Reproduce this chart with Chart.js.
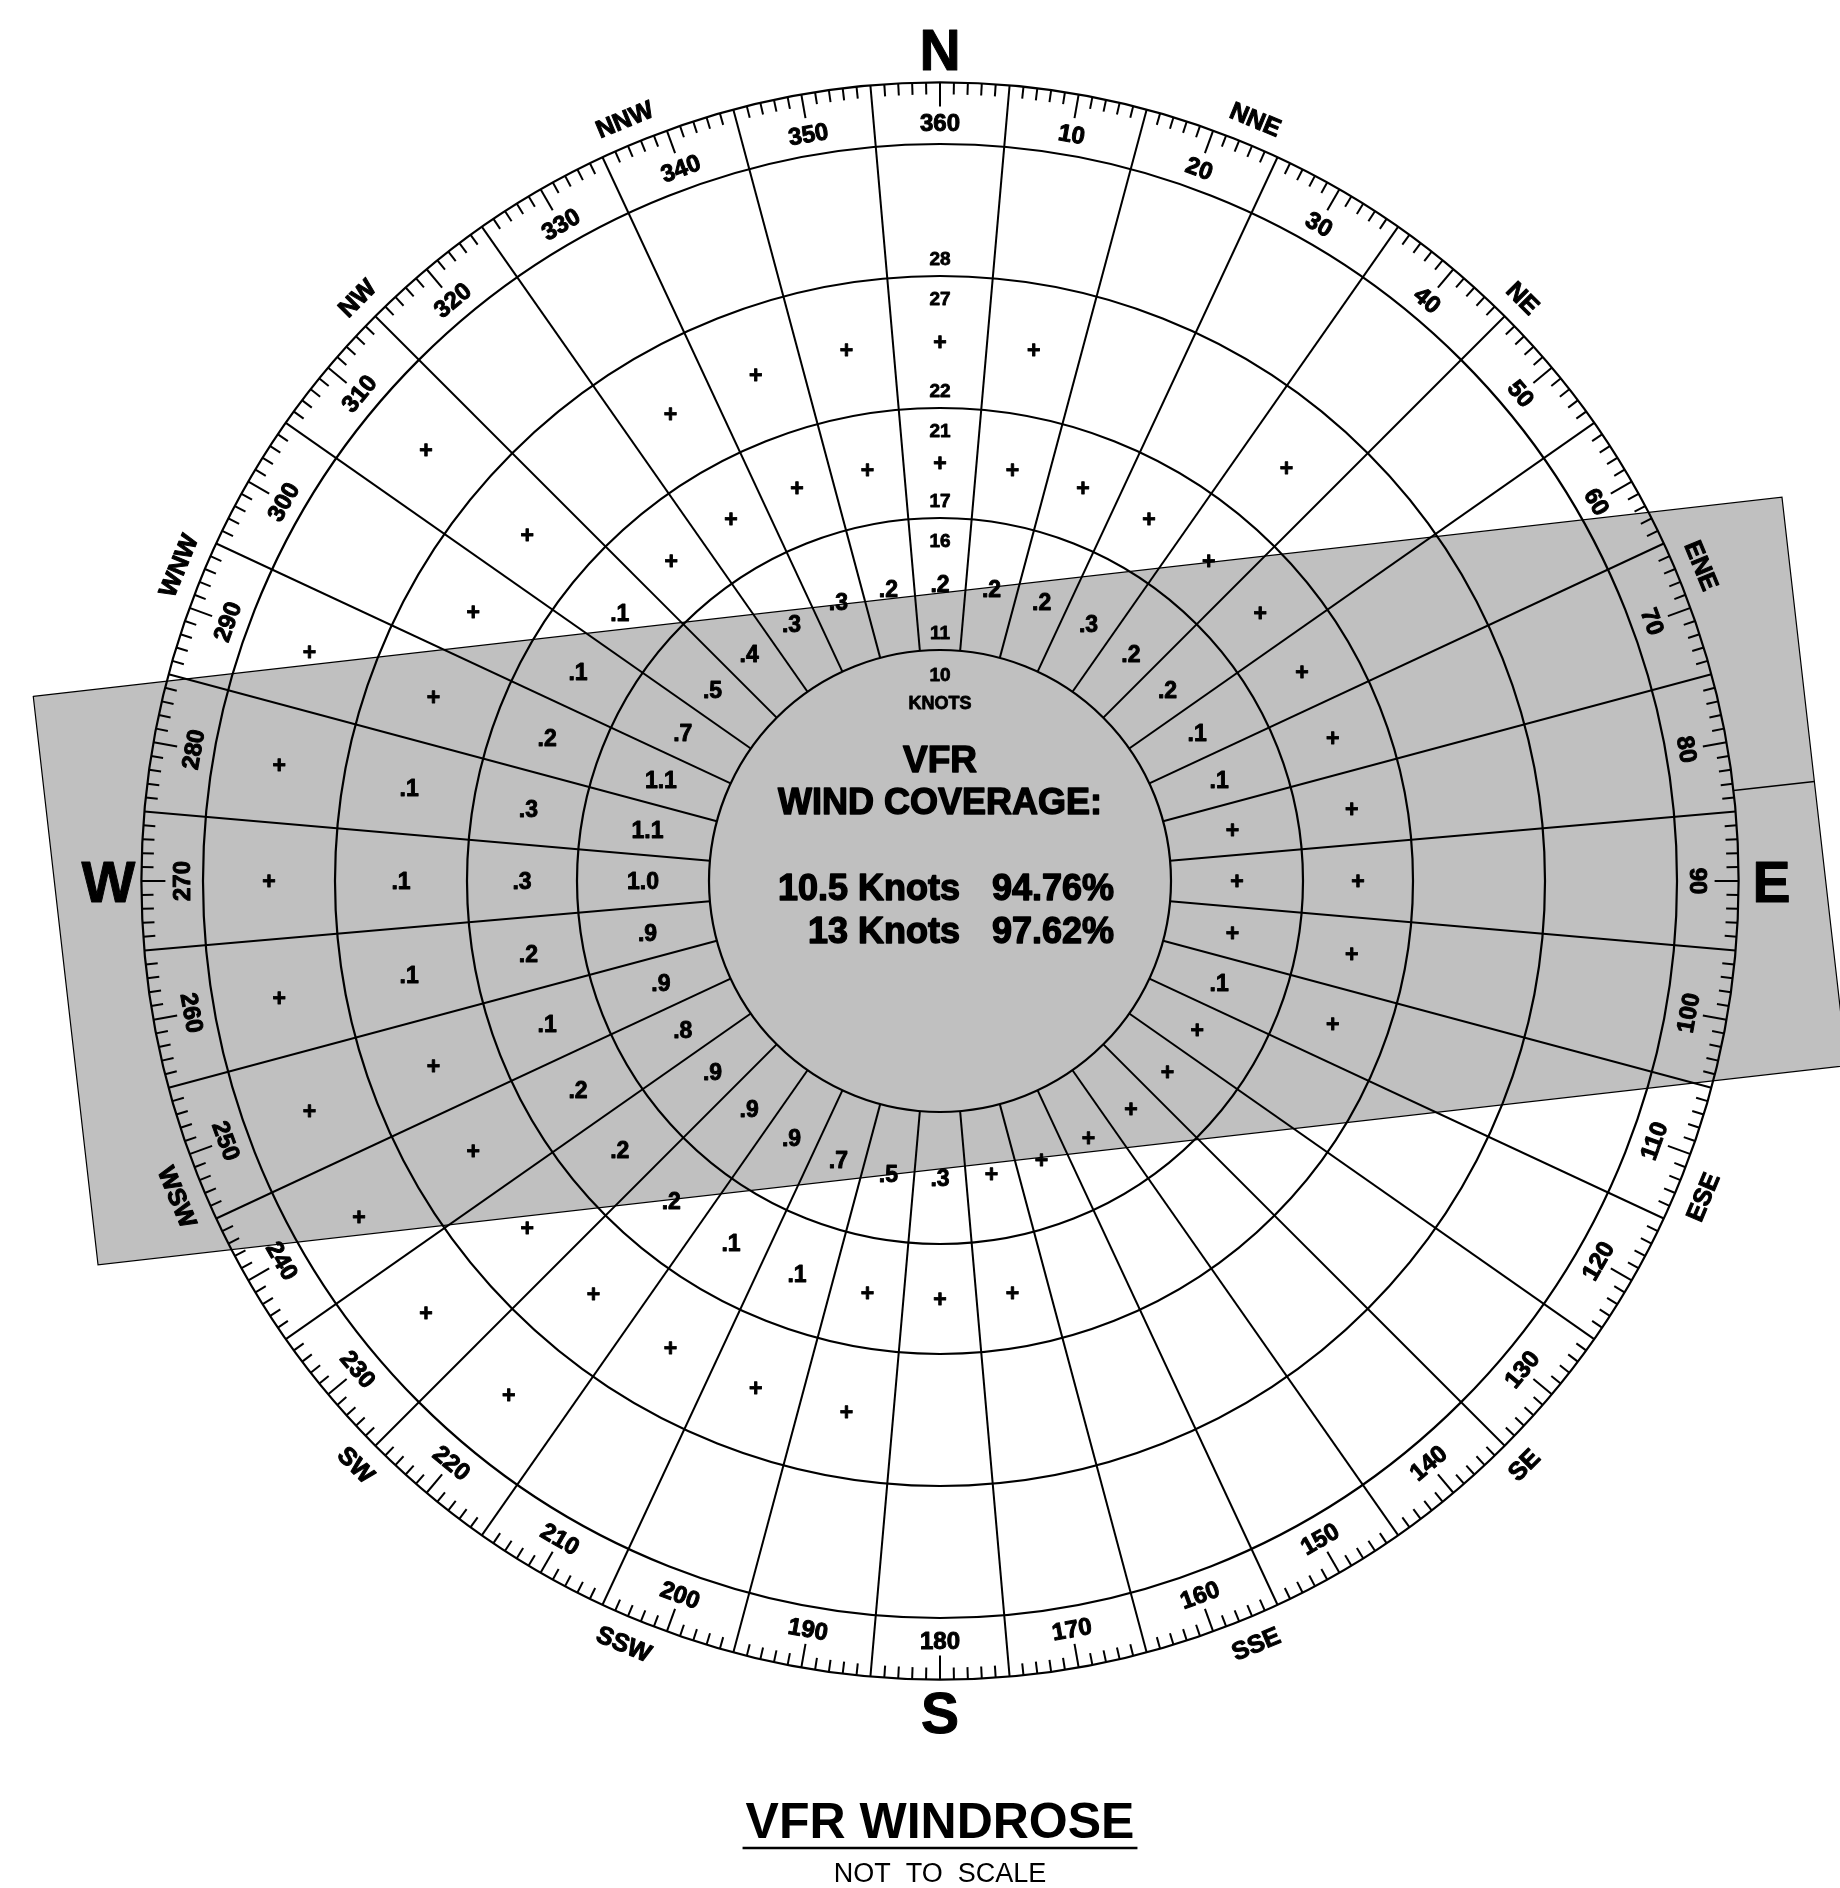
<!DOCTYPE html>
<html>
<head>
<meta charset="utf-8">
<title>VFR Windrose</title>
<script src="https://cdn.jsdelivr.net/npm/chart.js@4.4.1/dist/chart.umd.min.js"></script>
<style>
    html, body { margin: 0; padding: 0; background: #fff; }
    #wrap { width: 1840px; height: 1888px; }
</style>
</head>
<body>
<div id="wrap"><canvas id="roseChart" width="1840" height="1888"></canvas></div>
<script>
// Sector directions (degrees true), one sector every 10 degrees
const directions = [10, 20, 30, 40, 50, 60, 70, 80, 90, 100, 110, 120,
                    130, 140, 150, 160, 170, 180, 190, 200, 210, 220, 230, 240,
                    250, 260, 270, 280, 290, 300, 310, 320, 330, 340, 350, 360];

// Speed ring boundaries in knots
const speedRings = [10.5, 16.5, 21.5, 27.5, 33.5];
const ringLabels = [['11', '16'], ['17', '21'], ['22', '27'], ['28', '']];

// Percent of observations per sector ('+' = trace, null = none)
const T = '+';
const band11to16 = [0.2, 0.2, 0.3, 0.2, 0.2, 0.1, 0.1, T, T, T, 0.1, T,
                    T, T, T, T, T, 0.3, 0.5, 0.7, 0.9, 0.9, 0.9, 0.8,
                    0.9, 0.9, 1.0, 1.1, 1.1, 0.7, 0.5, 0.4, 0.3, 0.3, 0.2, 0.2];
const band17to21 = [T, T, T, T, T, T, T, T, T, T, T, null,
                    null, null, null, null, T, T, T, 0.1, 0.1, 0.2, 0.2, 0.2,
                    0.1, 0.2, 0.3, 0.3, 0.2, 0.1, 0.1, T, T, T, T, T];
const band22to27 = [T, null, null, T, null, null, null, null, null, null, null, null,
                    null, null, null, null, null, null, T, T, T, T, T, T,
                    T, 0.1, 0.1, 0.1, T, T, T, null, T, T, T, T];
const band28to33 = [null, null, null, null, null, null, null, null, null, null, null, null,
                    null, null, null, null, null, null, null, null, null, T, T, T,
                    T, T, T, T, T, null, T, null, null, null, null, null];
const speedBands = [band11to16, band17to21, band22to27, band28to33];

const compassPoints = ['N', 'NNE', 'NE', 'ENE', 'E', 'ESE', 'SE', 'SSE',
                       'S', 'SSW', 'SW', 'WSW', 'W', 'WNW', 'NW', 'NNW'];

// Runway and coverage
const runwayHeading = 83.5;
const crosswindLimit = 13;
const coverage = [['10.5 Knots', '94.76%'], ['13 Knots', '97.62%']];

const FONT = '"Liberation Sans", Arial, sans-serif';
const tickRing = 36.3;      // outer edge of the degree ring, knots
const bandHalfLength = 40;  // runway band extent, knots

function fmt(v) {
    if (v === T) return '+';
    return v >= 1 ? v.toFixed(1) : v.toFixed(1).replace(/^0/, '');
}

// cell points at the middle of each speed ring
const cellPoints = [];
speedBands.forEach((band, i) => {
    const mid = (speedRings[i] + speedRings[i + 1]) / 2;
    band.forEach((v, j) => {
        if (v === null) return;
        const a = directions[j] * Math.PI / 180;
        cellPoints.push({ x: mid * Math.sin(a), y: mid * Math.cos(a), v: fmt(v) });
    });
});

function upright(deg) {
    return (deg > 90 && deg < 270) ? deg - 180 : deg;
}

// text centred on (x, y); heavy = extra stroke to thicken the glyphs
function drawText(ctx, text, x, y, size, weight, rot, heavy) {
    ctx.save();
    ctx.translate(x, y);
    if (rot) ctx.rotate(rot * Math.PI / 180);
    ctx.font = weight + ' ' + size + 'px ' + FONT;
    ctx.textAlign = 'center';
    ctx.textBaseline = 'alphabetic';
    ctx.fillText(text, 0, size * 0.36);
    if (heavy) {
        ctx.lineWidth = heavy;
        ctx.lineJoin = 'round';
        ctx.strokeStyle = '#000';
        ctx.strokeText(text, 0, size * 0.36);
    }
    ctx.restore();
}

const windrosePlugin = {
    id: 'windrose',
    beforeDatasetsDraw(chart) {
        const ctx = chart.ctx;
        const xs = chart.scales.x, ys = chart.scales.y;
        const P = (r, deg) => {
            const a = deg * Math.PI / 180;
            return [xs.getPixelForValue(r * Math.sin(a)), ys.getPixelForValue(r * Math.cos(a))];
        };
        const R = r => xs.getPixelForValue(r) - xs.getPixelForValue(0);
        const cx = xs.getPixelForValue(0), cy = ys.getPixelForValue(0);

        // Crosswind band
        const h = runwayHeading * Math.PI / 180;
        const u = [Math.sin(h), Math.cos(h)], n = [-Math.cos(h), Math.sin(h)];
        const corner = (along, across) => [
            xs.getPixelForValue(along * u[0] + across * n[0]),
            ys.getPixelForValue(along * u[1] + across * n[1])
        ];
        const corners = [corner(-bandHalfLength, crosswindLimit), corner(bandHalfLength, crosswindLimit),
                         corner(bandHalfLength, -crosswindLimit), corner(-bandHalfLength, -crosswindLimit)];
        ctx.save();
        ctx.beginPath();
        corners.forEach((c, i) => i ? ctx.lineTo(c[0], c[1]) : ctx.moveTo(c[0], c[1]));
        ctx.closePath();
        ctx.fillStyle = '#c0c0c0';
        ctx.fill();
        ctx.lineWidth = 1.2;
        ctx.strokeStyle = '#000';
        ctx.stroke();

        // runway centerline beyond the rose (east end)
        const c1 = corner(tickRing, 0), c2 = corner(bandHalfLength, 0);
        ctx.beginPath();
        ctx.moveTo(c1[0], c1[1]);
        ctx.lineTo(c2[0], c2[1]);
        ctx.lineWidth = 1.5;
        ctx.stroke();

        // Rings
        ctx.lineWidth = 2.2;
        speedRings.concat([tickRing]).forEach(r => {
            ctx.beginPath();
            ctx.arc(cx, cy, R(r), 0, Math.PI * 2);
            ctx.stroke();
        });

        // Sector boundaries
        ctx.lineWidth = 2;
        directions.forEach(d => {
            const a = P(speedRings[0], d - 5), b = P(tickRing, d - 5);
            ctx.beginPath();
            ctx.moveTo(a[0], a[1]);
            ctx.lineTo(b[0], b[1]);
            ctx.stroke();
        });

        // Degree ticks
        const minor = 12 / R(1), major = 24 / R(1);
        for (let d = 0; d < 360; d++) {
            if (d % 10 === 5) continue;
            const len = d % 10 === 0 ? major : minor;
            const a = P(tickRing, d), b = P(tickRing - len, d);
            ctx.beginPath();
            ctx.moveTo(a[0], a[1]);
            ctx.lineTo(b[0], b[1]);
            ctx.stroke();
        }
        ctx.restore();
    },
    afterDatasetsDraw(chart) {
        const ctx = chart.ctx;
        const xs = chart.scales.x, ys = chart.scales.y;
        const P = (r, deg) => {
            const a = deg * Math.PI / 180;
            return [xs.getPixelForValue(r * Math.sin(a)), ys.getPixelForValue(r * Math.cos(a))];
        };
        const cx = xs.getPixelForValue(0), cy = ys.getPixelForValue(0);
        ctx.save();
        ctx.fillStyle = '#000';

        // Cell values
        const meta = chart.getDatasetMeta(0);
        meta.data.forEach((el, i) => {
            drawText(ctx, cellPoints[i].v, el.x, el.y, 23, 'bold', 0, 0.9);
        });

        // Speed labels in the north sector
        ringLabels.forEach((pair, i) => {
            let p = P(speedRings[i] + 0.8, 0);
            drawText(ctx, pair[0], p[0], p[1], 19, 'bold', 0, 0.8);
            if (pair[1]) {
                p = P(speedRings[i + 1] - 1.0, 0);
                drawText(ctx, pair[1], p[0], p[1], 19, 'bold', 0, 0.8);
            }
        });
        let p = P(9.4, 0);
        drawText(ctx, '10', p[0], p[1], 19, 'bold', 0, 0.8);
        p = P(8.1, 0);
        drawText(ctx, 'KNOTS', p[0], p[1], 18, 'bold', 0, 0.8);

        // Degree labels
        directions.forEach(d => {
            const q = P(34.5, d);
            drawText(ctx, String(d), q[0], q[1], 24, 'bold', upright(d % 360), 1);
        });

        // Compass points
        compassPoints.forEach((c, i) => {
            const d = i * 22.5;
            if (i % 4 === 0) {
                const q = P(37.8, d);
                drawText(ctx, c, q[0], q[1], 57, 'bold', 0, 1);
            } else {
                const q = P(37.5, d);
                drawText(ctx, c, q[0], q[1], 25, 'bold', upright(d), 1);
            }
        });

        // Coverage text
        drawText(ctx, 'VFR', cx, cy - 122, 37, 'bold', 0, 1.4);
        drawText(ctx, 'WIND COVERAGE:', cx, cy - 80, 36, 'bold', 0, 1.4);
        ctx.font = 'bold 36px ' + FONT;
        ctx.textBaseline = 'alphabetic';
        ctx.lineWidth = 1.4;
        ctx.lineJoin = 'round';
        ctx.strokeStyle = '#000';
        coverage.forEach((row, i) => {
            const y = cy + 6 + i * 43 + 36 * 0.36;
            ctx.textAlign = 'right';
            ctx.fillText(row[0], cx + 20, y);
            ctx.strokeText(row[0], cx + 20, y);
            ctx.textAlign = 'left';
            ctx.fillText(row[1], cx + 52, y);
            ctx.strokeText(row[1], cx + 52, y);
        });

        // Title
        drawText(ctx, 'VFR WINDROSE', cx, 1820, 50, 'bold', 0);
        ctx.font = 'bold 50px ' + FONT;
        const w = ctx.measureText('VFR WINDROSE').width;
        ctx.beginPath();
        ctx.moveTo(cx - w / 2 - 3, 1848);
        ctx.lineTo(cx + w / 2 + 3, 1848);
        ctx.lineWidth = 2.5;
        ctx.strokeStyle = '#000';
        ctx.stroke();
        drawText(ctx, 'NOT  TO  SCALE', cx, 1872, 27, 'normal', 0);
        ctx.restore();
    }
};

new Chart(document.getElementById('roseChart'), {
    type: 'scatter',
    data: {
        datasets: [{
            label: 'Wind frequency',
            data: cellPoints,
            pointRadius: 0,
            pointHoverRadius: 0
        }]
    },
    options: {
        responsive: false,
        animation: false,
        devicePixelRatio: 1,
        events: [],
        layout: { padding: 0 },
        plugins: {
            legend: { display: false },
            tooltip: { enabled: false }
        },
        scales: {
            x: { type: 'linear', display: false, min: -940 / 22, max: 900 / 22 },
            y: { type: 'linear', display: false, min: -1007 / 22, max: 881 / 22 }
        }
    },
    plugins: [windrosePlugin]
});
</script>
</body>
</html>
